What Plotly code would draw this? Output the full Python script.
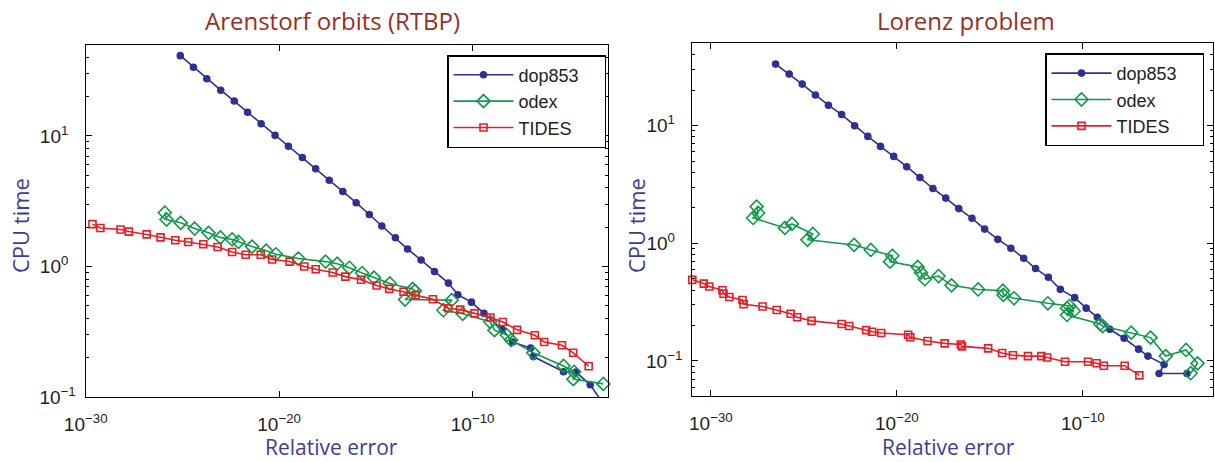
import numpy as np
import plotly.graph_objects as go

# ---------------- data (log10 of relative error, CPU time in s) ----------------
# Arenstorf orbits (RTBP)
ar_dop_logerr = [-25.11, -24.43, -23.74, -23.02, -22.32, -21.63, -20.93, -20.21, -19.52, -18.80,
                 -18.11, -17.41, -16.71, -16.02, -15.34, -14.69, -13.99, -13.36, -12.66, -11.97,
                 -11.25, -10.76, -10.06, -9.41, -8.46, -7.93, -7.00, -6.86, -5.30, -4.65, -3.92, -3.10]
ar_dop_cpu = [41.2, 33.6, 27.4, 22.4, 18.5, 15.2, 12.4, 10.1, 8.34, 6.84,
              5.60, 4.58, 3.75, 3.08, 2.50, 2.04, 1.66, 1.36, 1.12, 0.916,
              0.746, 0.607, 0.533, 0.437, 0.329, 0.264, 0.237, 0.204, 0.156, 0.155, 0.124, 0.083]

ar_odex_logerr = [-25.91, -25.82, -25.09, -24.37, -23.65, -23.04, -22.43, -22.10, -21.40, -20.67,
                  -20.17, -19.01, -17.60, -17.00, -16.37, -15.71, -15.10, -14.28, -13.10, -12.98,
                  -13.49, -11.08, -11.51, -10.51, -9.09, -8.87, -8.23, -8.01, -6.86, -5.30,
                  -4.75, -4.79, -3.24]
ar_odex_cpu = [2.58, 2.29, 2.16, 1.95, 1.81, 1.67, 1.61, 1.54, 1.42, 1.32,
               1.24, 1.15, 1.09, 1.05, 0.977, 0.891, 0.822, 0.741, 0.672, 0.650,
               0.558, 0.552, 0.462, 0.434, 0.377, 0.325, 0.298, 0.273, 0.218, 0.173,
               0.156, 0.137, 0.126]

ar_tides_logerr = [-29.65, -29.24, -28.20, -27.77, -26.85, -26.13, -25.37, -24.70, -23.92, -23.18,
                   -22.43, -21.73, -20.95, -20.36, -19.46, -18.70, -18.11, -17.23, -16.58, -15.77,
                   -14.96, -14.31, -13.57, -12.95, -12.05, -11.26, -10.64, -9.90, -9.08, -8.44,
                   -7.70, -6.78, -6.30, -5.38, -4.80, -4.00]
ar_tides_cpu = [2.11, 1.97, 1.92, 1.85, 1.76, 1.67, 1.59, 1.54, 1.48, 1.41,
                1.29, 1.23, 1.23, 1.13, 1.09, 1.00, 0.951, 0.899, 0.836, 0.791,
                0.715, 0.673, 0.640, 0.603, 0.561, 0.479, 0.467, 0.437, 0.406, 0.375,
                0.327, 0.297, 0.264, 0.249, 0.218, 0.172]

# Lorenz problem
lo_dop_logerr = [-26.52, -25.79, -25.09, -24.38, -23.68, -22.97, -22.27, -21.56, -20.88, -20.17,
                 -19.47, -18.76, -18.06, -17.37, -16.67, -15.96, -15.28, -14.57, -13.87, -13.18,
                 -12.54, -11.85, -11.21, -10.44, -9.82, -9.22, -8.55, -7.78, -7.00, -6.50,
                 -5.63, -5.90, -4.40]
lo_dop_cpu = [33.3, 27.4, 22.5, 18.2, 14.9, 12.4, 9.95, 8.09, 6.65, 5.47,
              4.47, 3.62, 2.92, 2.42, 1.97, 1.63, 1.32, 1.08, 0.908, 0.746,
              0.610, 0.514, 0.406, 0.345, 0.281, 0.235, 0.186, 0.156, 0.126, 0.110,
              0.0933, 0.0782, 0.0782]

lo_odex_logerr = [-27.54, -27.46, -27.73, -26.02, -25.64, -24.52, -24.81, -22.30, -21.40, -20.24,
                  -20.37, -18.88, -18.70, -18.50, -17.76, -17.06, -15.63, -14.30, -14.27, -13.70,
                  -11.88, -10.72, -10.85, -10.49, -10.85, -9.06, -8.93, -7.40, -6.36, -5.54,
                  -4.45, -3.83, -4.20]
lo_odex_cpu = [2.05, 1.81, 1.64, 1.35, 1.46, 1.20, 1.07, 0.968, 0.877, 0.783,
               0.698, 0.630, 0.562, 0.495, 0.527, 0.439, 0.405, 0.395, 0.364, 0.341,
               0.309, 0.293, 0.281, 0.266, 0.246, 0.206, 0.198, 0.174, 0.158, 0.110,
               0.124, 0.0955, 0.0787]

lo_tides_logerr = [-31.00, -30.38, -30.09, -29.38, -29.32, -29.01, -28.30, -28.24, -27.22, -26.46,
                   -25.71, -25.36, -24.59, -22.97, -22.56, -21.65, -21.33, -20.84, -19.39, -19.28,
                   -18.35, -17.43, -16.56, -16.50, -15.09, -14.34, -13.76, -12.95, -12.23, -11.92,
                   -10.96, -9.72, -9.26, -8.87, -7.75, -6.96]
lo_tides_cpu = [0.489, 0.454, 0.429, 0.399, 0.373, 0.350, 0.330, 0.303, 0.290, 0.271,
                0.252, 0.235, 0.219, 0.206, 0.198, 0.183, 0.177, 0.173, 0.167, 0.159,
                0.148, 0.141, 0.138, 0.133, 0.128, 0.117, 0.112, 0.110, 0.110, 0.107,
                0.0986, 0.0986, 0.0955, 0.0912, 0.0912, 0.0755]

series_names = ["dop853", "odex", "TIDES"]
x_tick_exps = [-30, -20, -10]
y_tick_exps = [-1, 0, 1]

# ---------------- style ----------------
BLUE = "#2E3192"
GREEN = "#0E9A48"
RED = "#EC1C24"
TITLE_C = "#9B2D24"
LABEL_C = "#3A3D98"
FONT = "Liberation Sans, Arial, sans-serif"
TFONT = "Open Sans, Lato, sans-serif"
PAD = "\u00a0\u00a0\u00a0\u00a0"

fig = go.Figure()

def add_series(xe, y, name, color, symbol, size, xa, ya, legend, clip):
    fig.add_trace(go.Scatter(
        x=[10.0 ** v for v in xe], y=y, name=name + PAD, mode="lines+markers",
        line=dict(color=color, width=1.6),
        marker=dict(symbol=symbol, size=size, color=color,
                    line=dict(color=color, width=1.6)),
        xaxis=xa, yaxis=ya, legend=legend, cliponaxis=clip))

add_series(ar_dop_logerr, ar_dop_cpu, series_names[0], BLUE, "circle", 6, "x", "y", "legend", True)
add_series(ar_odex_logerr, ar_odex_cpu, series_names[1], GREEN, "diamond-open", 10, "x", "y", "legend", False)
add_series(ar_tides_logerr, ar_tides_cpu, series_names[2], RED, "square-open", 7, "x", "y", "legend", False)

add_series(lo_dop_logerr, lo_dop_cpu, series_names[0], BLUE, "circle", 6, "x2", "y2", "legend2", False)
add_series(lo_odex_logerr, lo_odex_cpu, series_names[1], GREEN, "diamond-open", 10, "x2", "y2", "legend2", False)
add_series(lo_tides_logerr, lo_tides_cpu, series_names[2], RED, "square-open", 7, "x2", "y2", "legend2", False)

xtickvals = [10.0 ** e for e in x_tick_exps]
xticktext = ["10<sup>\u2212%d</sup>" % (-e) for e in x_tick_exps]
ytickvals = [10.0 ** e for e in y_tick_exps]
yticktext = ["10<sup>%s</sup>" % (("\u2212%d" % (-e)) if e < 0 else (str(e) + "\u2007")) for e in y_tick_exps]
minor_y = [m * 10.0 ** k for k in range(-2, 2) for m in range(2, 10)]

def xax(domain, rng):
    return dict(type="log", domain=domain, range=rng, tickvals=xtickvals, ticktext=xticktext,
                ticks="inside", ticklen=6, tickwidth=1, tickcolor="black",
                showline=True, linecolor="black", linewidth=1.3, mirror="ticks",
                showgrid=False, zeroline=False, automargin=False, ticklabelstandoff=10,
                tickfont=dict(family=FONT, size=19, color="#222"))

def yax(domain, rng, anchor):
    return dict(type="log", domain=domain, range=rng, tickvals=ytickvals, ticktext=yticktext,
                ticks="inside", ticklen=6, tickwidth=1, tickcolor="black",
                minor=dict(tickvals=minor_y, ticks="inside", ticklen=3, tickcolor="black", showgrid=False),
                showline=True, linecolor="black", linewidth=1.3, mirror="ticks",
                showgrid=False, zeroline=False, automargin=False, anchor=anchor, ticklabelstandoff=5,
                tickfont=dict(family=FONT, size=19, color="#222"))

W, H = 1215, 462
fig.update_layout(
    width=W, height=H, margin=dict(l=0, r=0, t=0, b=0),
    paper_bgcolor="white", plot_bgcolor="white",
    xaxis=xax([85.7 / W, 608 / W], [-30, -3]),
    yaxis=yax([1 - 397 / H, 1 - 44.7 / H], [-1, np.log10(50)], "x"),
    xaxis2=dict(xax([692.3 / W, 1213 / W], [-31, -3]), anchor="y2"),
    yaxis2=yax([1 - 396.4 / H, 1 - 43.3 / H], [np.log10(0.05), np.log10(50)], "x2"),
    legend=dict(x=606 / W, y=1 - 55 / H, xanchor="right", yanchor="top",
                bgcolor="white", bordercolor="black", borderwidth=1.5,
                font=dict(family=FONT, size=18, color="#222"), tracegroupgap=0,
                itemwidth=60),
    legend2=dict(x=1204 / W, y=1 - 53.4 / H, xanchor="right", yanchor="top",
                 bgcolor="white", bordercolor="black", borderwidth=1.5,
                 font=dict(family=FONT, size=18, color="#222"), tracegroupgap=0,
                 itemwidth=60),
)

ann = []
ann.append(dict(text="Arenstorf orbits (RTBP)", x=332 / W, y=1 - 21 / H, xref="paper", yref="paper",
                xanchor="center", yanchor="middle",
                showarrow=False, font=dict(family=TFONT, size=24, color=TITLE_C)))
ann.append(dict(text="Lorenz problem", x=966 / W, y=1 - 21 / H, xref="paper", yref="paper",
                xanchor="center", yanchor="middle",
                showarrow=False, font=dict(family=TFONT, size=24, color=TITLE_C)))
for cx in (20, 636):
    ann.append(dict(text="CPU time", x=cx / W, y=1 - 226 / H, xref="paper", yref="paper",
                    xanchor="center", yanchor="middle",
                    showarrow=False, textangle=-90, font=dict(family=TFONT, size=22, color=LABEL_C)))
for cx in (331, 948):
    ann.append(dict(text="Relative error", x=cx / W, y=1 - 447 / H, xref="paper", yref="paper",
                    xanchor="center", yanchor="middle",
                    showarrow=False, font=dict(family=TFONT, size=21, color=LABEL_C)))
fig.update_layout(annotations=ann)

fig.write_html("out.html", config={"displayModeBar": False},
               post_script="document.body.style.margin='0';document.body.style.padding='0';"
                           "document.documentElement.style.overflow='hidden';")
